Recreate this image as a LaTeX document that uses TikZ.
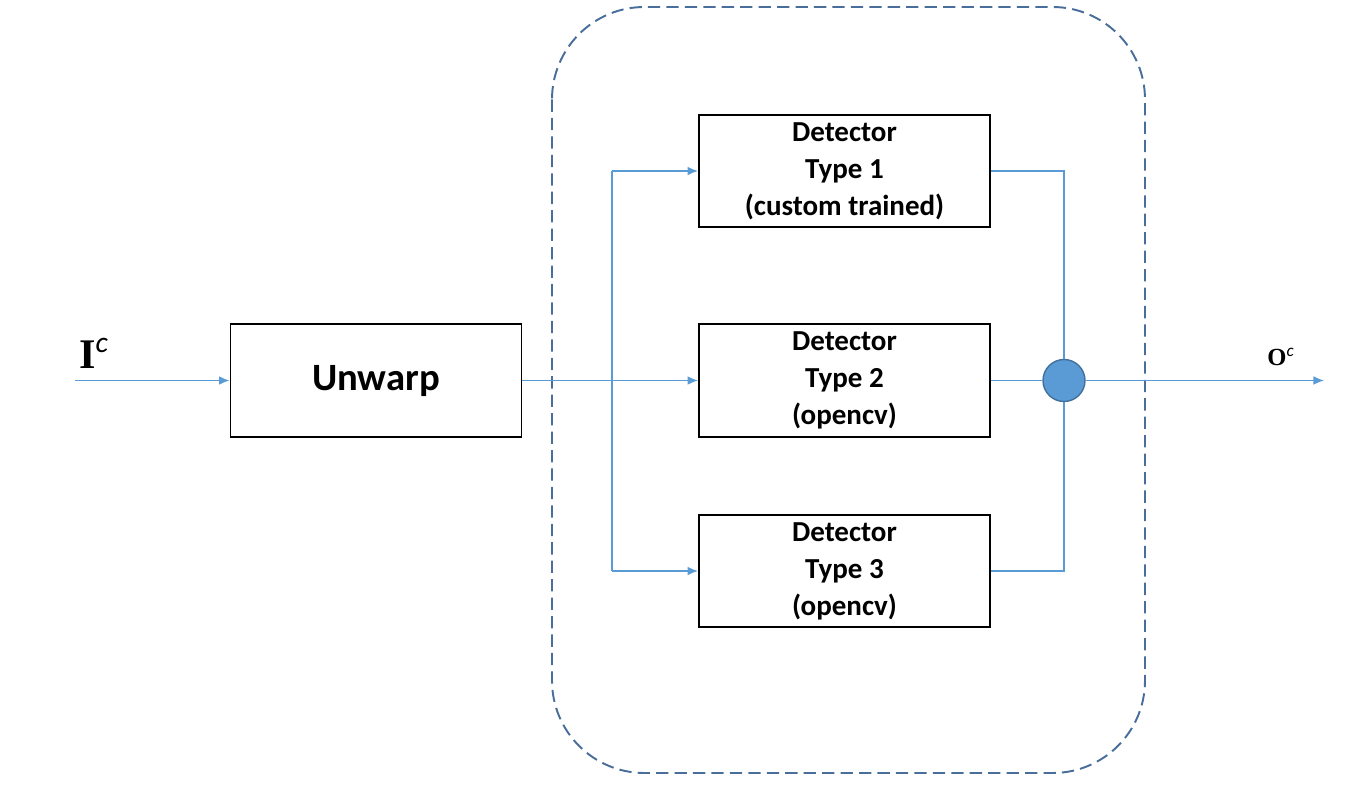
\documentclass[tikz,border=0pt]{standalone}
\usepackage{fontspec}
\setmainfont{Carlito}
\newfontfamily\labelfont{Liberation Serif}
\usetikzlibrary{arrows.meta}
\definecolor{linkblue}{HTML}{5B9BD5}
\definecolor{edgeblue}{HTML}{41719C}
\definecolor{groupblue}{HTML}{4A6E9C}

\begin{document}
\begin{tikzpicture}[
  x=0.02cm, y=-0.02cm,
  block/.style={
    draw, line width=1.1pt, minimum width=5.82cm, minimum height=2.25cm,
    align=center, font=\bfseries\fontsize{16.5}{21}\selectfont
  },
  link/.style={
    draw=linkblue, line width=0.85pt
  },
  link_arrow/.style={
    link, -{Latex[length=6pt,width=5pt]}
  }]
  \useasboundingbox (0,0) rectangle (1367,802);
  %
  \draw[groupblue, line width=1.1pt, dash pattern=on 7pt off 3.5pt,
    rounded corners=1.85cm] (552,7) rectangle (1145,773);
  %
  \node[block, font=\bfseries\fontsize{22}{26}\selectfont] (unwarp) at (376,380.5) {Unwarp};
  \node[block] (det1) at (844.5,171) {Detector\\Type 1\\(custom trained)};
  \node[block] (det2) at (844.5,380.5) {Detector\\Type 2\\(opencv)};
  \node[block] (det3) at (844.5,571) {Detector\\Type 3\\(opencv)};
  \node[circle, draw=edgeblue, fill=linkblue, line width=0.8pt,
    minimum width=0.84cm, minimum height=0.8cm, inner sep=0pt] (join) at (1064,380.5) {};
  %
  \coordinate (in) at (75,380.5);
  \coordinate (out) at (1324,380.5);
  \coordinate (split1) at (612,171);
  \coordinate (split3) at (612,571);
  \node[font=\labelfont\bfseries\fontsize{24}{24}\selectfont] (in_label) at (94,353) {I\textsuperscript{\normalfont\itshape c}};
  \node[font=\labelfont\bfseries\fontsize{14}{14}\selectfont] (out_label) at (1281,357) {O\textsuperscript{\normalfont\itshape c}};
  %
  \draw[link_arrow] (in) -- (unwarp.west);
  \draw[link_arrow] (unwarp.east) -- (det2.west);
  \draw[link] (split1) -- (split3);
  \draw[link_arrow] (split1) -- (det1.west);
  \draw[link_arrow] (split3) -- (det3.west);
  \draw[link] (det1.east) -| (join.north);
  \draw[link] (det3.east) -| (join.south);
  \draw[link] (det2.east) -- (join.west);
  \draw[link_arrow] (join.east) -- (out);
\end{tikzpicture}
\end{document}
